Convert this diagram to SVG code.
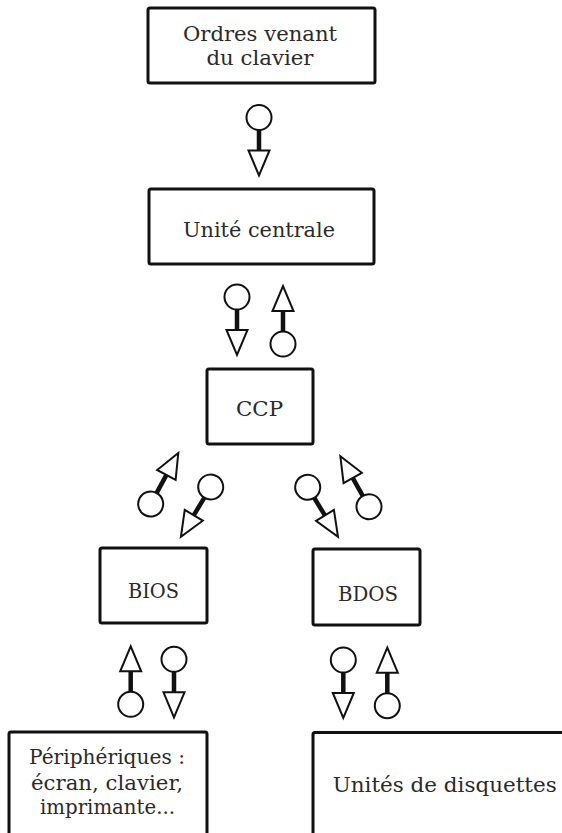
<svg xmlns="http://www.w3.org/2000/svg" width="562" height="833" viewBox="0 0 562 833">
<style>
.box{fill:#fff;stroke:#111;stroke-width:3;stroke-linejoin:round}
.t{font-family:"DejaVu Serif","Liberation Serif",serif;font-size:20px;fill:#2a2a2a;text-anchor:middle}
.c{fill:#fff;stroke:#111;stroke-width:2}
.s{stroke:#111;stroke-width:4.5;fill:none}
</style>
<defs>
<g id="conn">
<line class="s" x1="0" y1="12" x2="0" y2="34"/>
<circle class="c" cx="0" cy="0" r="12.5"/>
<path class="c" d="M-10.5,33 L10.5,33 L0,58 Z" stroke-linejoin="miter"/>
</g>
</defs>
<g id="n1">
<rect class="box" x="148" y="8" width="227" height="75" rx="2"/>
<text class="t" x="260" y="41" textLength="154" lengthAdjust="spacingAndGlyphs">Ordres venant</text>
<text class="t" x="260" y="65" textLength="107" lengthAdjust="spacingAndGlyphs">du clavier</text>
</g>
<g id="n2">
<rect class="box" x="149" y="189" width="225" height="75" rx="2"/>
<text class="t" x="259" y="237" textLength="152" lengthAdjust="spacingAndGlyphs">Unité centrale</text>
</g>
<g id="n3">
<rect class="box" x="207" y="369" width="106" height="75" rx="2"/>
<text class="t" x="259.5" y="416" textLength="47" lengthAdjust="spacingAndGlyphs">CCP</text>
</g>
<g id="n4">
<rect class="box" x="100" y="548" width="107" height="75" rx="2"/>
<text class="t" x="153.5" y="598" textLength="51" lengthAdjust="spacingAndGlyphs">BIOS</text>
</g>
<g id="n5">
<rect class="box" x="313" y="549" width="107" height="76" rx="2"/>
<text class="t" x="368" y="600.5" textLength="60" lengthAdjust="spacingAndGlyphs">BDOS</text>
</g>
<g id="n6">
<rect class="box" x="9" y="732" width="198" height="120" rx="2"/>
<text class="t" x="107" y="764" textLength="156" lengthAdjust="spacingAndGlyphs">Périphériques :</text>
<text class="t" x="107" y="790" textLength="152" lengthAdjust="spacingAndGlyphs">écran, clavier,</text>
<text class="t" x="107.5" y="814" textLength="135" lengthAdjust="spacingAndGlyphs">imprimante...</text>
</g>
<g id="n7">
<rect class="box" x="313" y="732.5" width="270" height="120" rx="2"/>
<text class="t" x="444.7" y="791.5" textLength="224" lengthAdjust="spacingAndGlyphs">Unités de disquettes</text>
</g>
<g id="connectors">
<use href="#conn" transform="translate(259,117.5)"/>
<use href="#conn" transform="translate(237,297)"/>
<use href="#conn" transform="translate(283,344) rotate(180)"/>
<use href="#conn" transform="translate(150.7,504) rotate(-151.6)"/>
<use href="#conn" transform="translate(210.7,487) rotate(30.9)"/>
<use href="#conn" transform="translate(307.7,487.3) rotate(-31.5)"/>
<use href="#conn" transform="translate(369,506.7) rotate(150.4)"/>
<use href="#conn" transform="translate(130.7,704.3) rotate(180)"/>
<use href="#conn" transform="translate(174,659.3)"/>
<use href="#conn" transform="translate(343.3,660)"/>
<use href="#conn" transform="translate(387.3,705.7) rotate(180)"/>
</g>
</svg>
